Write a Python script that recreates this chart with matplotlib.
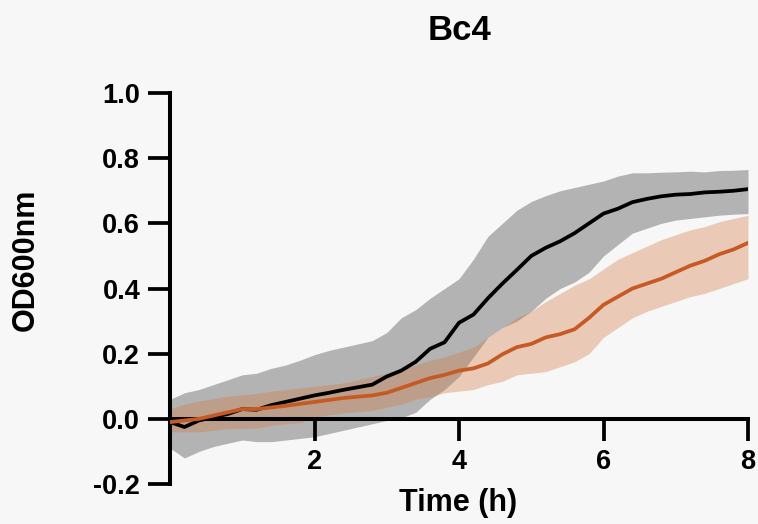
import matplotlib
matplotlib.use("Agg")
import matplotlib.pyplot as plt
import numpy as np

plt.rcParams['font.family'] = ['Liberation Sans', 'DejaVu Sans']
plt.rcParams['font.weight'] = 'bold'

time_h = [0.0, 0.2, 0.4, 0.6, 0.8, 1.0, 1.2, 1.4, 1.6, 1.8, 2.0, 2.2, 2.4, 2.6, 2.8,
          3.0, 3.2, 3.4, 3.6, 3.8, 4.0, 4.2, 4.4, 4.6, 4.8, 5.0, 5.2, 5.4, 5.6, 5.8,
          6.0, 6.2, 6.4, 6.6, 6.8, 7.0, 7.2, 7.4, 7.6, 7.8, 8.0]

black_mean = [-0.01, -0.025, -0.005, 0.005, 0.015, 0.03, 0.028, 0.042, 0.052, 0.062, 0.072,
              0.08, 0.089, 0.097, 0.105, 0.13, 0.148, 0.175, 0.215, 0.235, 0.295, 0.32,
              0.37, 0.415, 0.457, 0.50, 0.525, 0.545, 0.57, 0.60, 0.63, 0.645, 0.665,
              0.675, 0.683, 0.688, 0.69, 0.695, 0.697, 0.70, 0.705]
black_upper = [0.06, 0.08, 0.09, 0.105, 0.12, 0.135, 0.14, 0.155, 0.165, 0.18, 0.197,
               0.21, 0.22, 0.23, 0.24, 0.265, 0.31, 0.335, 0.37, 0.40, 0.43, 0.49,
               0.56, 0.60, 0.64, 0.667, 0.685, 0.70, 0.71, 0.72, 0.73, 0.745, 0.755,
               0.755, 0.757, 0.758, 0.76, 0.758, 0.762, 0.763, 0.765]
black_lower = [-0.09, -0.12, -0.10, -0.085, -0.075, -0.065, -0.07, -0.07, -0.065, -0.06,
               -0.055, -0.045, -0.035, -0.025, -0.015, -0.005, 0.003, 0.02, 0.06, 0.09,
               0.13, 0.19, 0.25, 0.28, 0.30, 0.33, 0.37, 0.40, 0.42, 0.45, 0.50, 0.535,
               0.57, 0.585, 0.60, 0.61, 0.615, 0.62, 0.625, 0.628, 0.63]

orange_mean = [-0.01, -0.005, 0.0, 0.01, 0.02, 0.03, 0.03, 0.035, 0.04, 0.046, 0.052,
               0.058, 0.064, 0.068, 0.072, 0.08, 0.095, 0.11, 0.125, 0.135, 0.148, 0.155,
               0.17, 0.198, 0.22, 0.23, 0.25, 0.26, 0.275, 0.31, 0.35, 0.375, 0.40,
               0.415, 0.43, 0.45, 0.47, 0.485, 0.505, 0.52, 0.54]
orange_upper = [0.03, 0.045, 0.055, 0.062, 0.07, 0.074, 0.078, 0.085, 0.09, 0.095, 0.10,
                0.105, 0.11, 0.12, 0.13, 0.14, 0.15, 0.165, 0.18, 0.19, 0.205, 0.22,
                0.25, 0.28, 0.31, 0.33, 0.36, 0.385, 0.41, 0.43, 0.46, 0.49, 0.51,
                0.53, 0.55, 0.565, 0.58, 0.59, 0.605, 0.615, 0.625]
orange_lower = [-0.04, -0.04, -0.04, -0.035, -0.03, -0.03, -0.028, -0.02, -0.015, -0.012,
                0.005, 0.012, 0.018, 0.022, 0.026, 0.035, 0.045, 0.06, 0.068, 0.08,
                0.085, 0.09, 0.105, 0.115, 0.135, 0.14, 0.145, 0.16, 0.175, 0.20, 0.25,
                0.28, 0.31, 0.33, 0.345, 0.36, 0.375, 0.385, 0.40, 0.415, 0.43]

x_ticks = [2, 4, 6, 8]
y_ticks = [-0.2, 0.0, 0.2, 0.4, 0.6, 0.8, 1.0]
y_tick_labels = ['-0.2', '0.0', '0.2', '0.4', '0.6', '0.8', '1.0']

bg = '#f7f7f7'
fig = plt.figure(figsize=(7.58, 5.24), dpi=100, facecolor=bg)
ax = fig.add_axes([0.2243, 0.0763, 0.7625, 0.7462], facecolor=bg)

ax.fill_between(time_h, black_lower, black_upper, color='#b3b3b3', linewidth=0, zorder=1)
ax.fill_between(time_h, orange_lower, orange_upper, color='#d2783f', alpha=0.35,
                linewidth=0, zorder=2)
ax.plot(time_h, black_mean, color='black', linewidth=2.7, zorder=3)
ax.plot(time_h, orange_mean, color='#c55a24', linewidth=2.7, zorder=4)

ax.set_xlim(0, 8)
ax.set_ylim(-0.2, 1.0)
ax.set_xticks(x_ticks)
ax.set_yticks(y_ticks)
ax.set_xticklabels([str(t) for t in x_ticks])
ax.set_yticklabels(y_tick_labels)

for s in ['top', 'right']:
    ax.spines[s].set_visible(False)
ax.spines['bottom'].set_position(('data', 0))
ax.spines['left'].set_linewidth(2.9)
ax.spines['bottom'].set_linewidth(2.9)
ax.tick_params(axis='both', direction='out', length=15.5, width=2.7,
               labelsize=19.5, color='black')
ax.tick_params(axis='y', pad=6)
ax.tick_params(axis='x', pad=6)
for lbl in ax.get_xticklabels() + ax.get_yticklabels():
    lbl.set_fontweight('bold')

ax.set_title('Bc4', fontsize=25, fontweight='bold', pad=38)
fig.text(0.604, 0.04, 'Time (h)', fontsize=22, fontweight='bold',
         ha='center', va='center')
fig.text(0.034, 0.504, 'OD600nm', fontsize=22, fontweight='bold', rotation=90,
         ha='center', va='center')

fig.savefig('out.png', dpi=100, facecolor=bg)
